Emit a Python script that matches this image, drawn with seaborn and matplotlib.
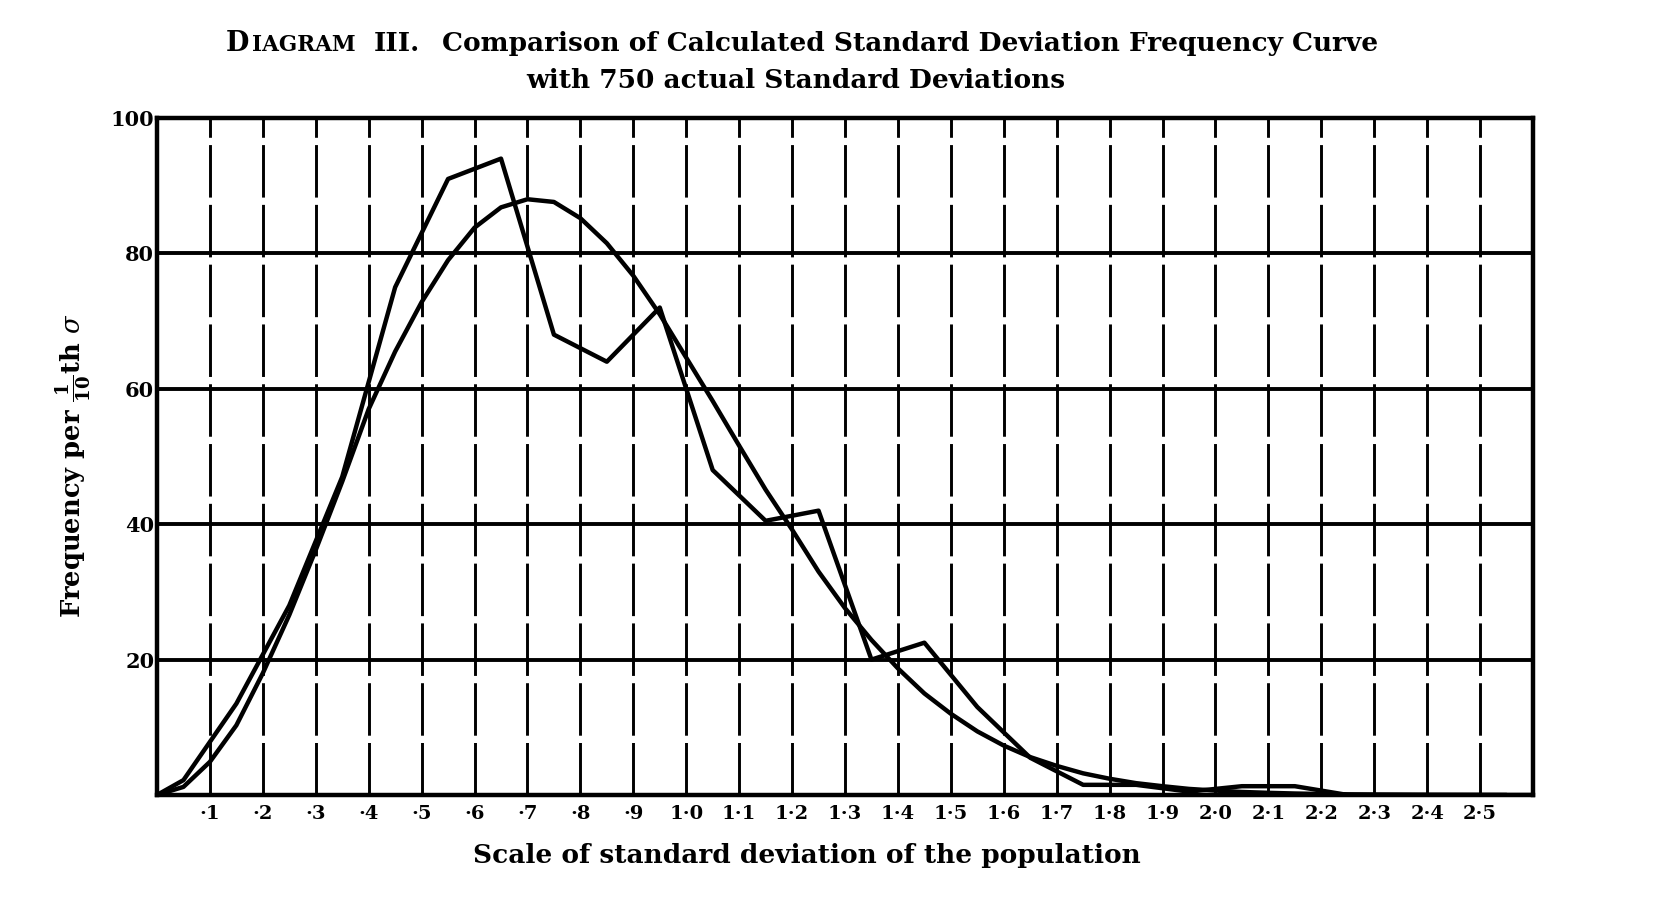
#!/usr/bin/env python
"""Diagram III: calculated standard deviation frequency curve vs 750 actual SDs."""
import matplotlib
matplotlib.use("Agg")
import numpy as np
import pandas as pd
import matplotlib.pyplot as plt
import seaborn as sns

# --- Data ---
# calculated (smooth) curve, frequency per 1/10 sigma
CALC_SCALE = [0.00, 0.05, 0.10, 0.15, 0.20, 0.25, 0.30, 0.35, 0.40, 0.45,
              0.50, 0.55, 0.60, 0.65, 0.70, 0.75, 0.80, 0.85, 0.90, 0.95,
              1.00, 1.05, 1.10, 1.15, 1.20, 1.25, 1.30, 1.35, 1.40, 1.45,
              1.50, 1.55, 1.60, 1.65, 1.70, 1.75, 1.80, 1.85, 1.90, 1.95,
              2.00, 2.05, 2.10, 2.15, 2.20, 2.25, 2.30, 2.35, 2.40, 2.45,
              2.50, 2.55, 2.60]
CALC_FREQ = [0.0, 1.2, 4.9, 10.3, 18.0, 26.6, 36.2, 46.3, 57.0, 65.5,
             72.8, 79.0, 83.8, 86.8, 88.0, 87.6, 85.2, 81.5, 76.7, 71.0,
             64.6, 58.2, 51.6, 45.1, 39.2, 33.0, 27.6, 22.9, 18.7, 15.0,
             12.0, 9.4, 7.3, 5.6, 4.3, 3.2, 2.4, 1.75, 1.3, 0.9,
             0.65, 0.45, 0.32, 0.22, 0.15, 0.1, 0.07, 0.05, 0.03, 0.02,
             0.01, 0.0, 0.0]

# actual standard deviations (frequency polygon)
ACTUAL_SCALE = [0.00, 0.05, 0.15, 0.25, 0.35, 0.45, 0.55, 0.65, 0.75, 0.85,
                0.95, 1.05, 1.15, 1.25, 1.35, 1.45, 1.55, 1.65, 1.75, 1.85,
                1.95, 2.05, 2.15, 2.25, 2.35, 2.45, 2.55]
ACTUAL_FREQ = [0.0, 2.2, 13.5, 28.0, 47.0, 75.0, 91.0, 94.0, 68.0, 64.0,
               72.0, 48.0, 40.5, 42.0, 20.0, 22.5, 13.0, 5.5, 1.5, 1.5,
               0.5, 1.3, 1.3, 0.0, 0.0, 0.0, 0.0]

X_TICKS = [0.1, 0.2, 0.3, 0.4, 0.5, 0.6, 0.7, 0.8, 0.9, 1.0, 1.1, 1.2, 1.3,
           1.4, 1.5, 1.6, 1.7, 1.8, 1.9, 2.0, 2.1, 2.2, 2.3, 2.4, 2.5]
X_LABELS = ["·1", "·2", "·3", "·4", "·5", "·6", "·7", "·8", "·9", "1·0",
            "1·1", "1·2", "1·3", "1·4", "1·5", "1·6", "1·7", "1·8", "1·9",
            "2·0", "2·1", "2·2", "2·3", "2·4", "2·5"]
Y_TICKS = [20, 40, 60, 80, 100]
Y_LABELS = ["20", "40", "60", "80", "100"]

SERIF = "DejaVu Serif"

sns.set_style("white")
plt.rcParams["font.family"] = [SERIF, "DejaVu Sans"]
plt.rcParams["mathtext.fontset"] = "dejavuserif"
plt.rcParams["text.color"] = "black"

W, H = 1660, 908
fig = plt.figure(figsize=(W / 100, H / 100), dpi=100)
ax = fig.add_axes([157 / W, 1 - 795 / H, (1533 - 157) / W, (795 - 118) / H])

calc = pd.DataFrame({"scale": CALC_SCALE, "freq": CALC_FREQ})
actual = pd.DataFrame({"scale": ACTUAL_SCALE, "freq": ACTUAL_FREQ})

sns.lineplot(data=calc, x="scale", y="freq", color="black", lw=3.2, ax=ax,
             sort=False, zorder=5)
sns.lineplot(data=actual, x="scale", y="freq", color="black", lw=3.2, ax=ax,
             sort=False, zorder=5)

ax.set_xlim(0, 2.6)
ax.set_ylim(0, 100)
ax.set_xticks(X_TICKS, X_LABELS)
ax.set_yticks(Y_TICKS, Y_LABELS)
ax.tick_params(axis="both", length=0, colors="black")
ax.tick_params(axis="x", pad=7, labelsize=14)
ax.tick_params(axis="y", pad=2, labelsize=15)
for lab in ax.get_xticklabels() + ax.get_yticklabels():
    lab.set_fontweight("bold")

ax.set_axisbelow(True)
ax.yaxis.grid(True, color="black", lw=2.8)
ax.xaxis.grid(True, color="black", lw=2.1, ls=(0, (18, 2.5)))
for side in ["left", "bottom", "right", "top"]:
    ax.spines[side].set_visible(True)
    ax.spines[side].set_color("black")
    ax.spines[side].set_linewidth(3.2)

ax.set_xlabel("")
ax.set_ylabel("")

# y label and x label
fig.text(74 / W, 1 - 466 / H, r"Frequency per $\mathbf{\frac{1}{10}}$th $\sigma$",
         rotation=90, ha="center", va="center", fontsize=18.5, fontweight="bold",
         color="black")
fig.text(807 / W, 1 - 856 / H, "Scale of standard deviation of the population",
         ha="center", va="center", fontsize=19, fontweight="bold", color="black")


def place_row(pieces, y, cx):
    """Lay out text pieces side by side (small caps style), centred on cx."""
    texts = []
    for s, size, gap in pieces:
        t = fig.text(0, y, s, fontsize=size, fontweight="bold", va="baseline",
                     ha="left", color="black")
        texts.append((t, gap))
    r = fig.canvas.get_renderer()
    widths = [t.get_window_extent(r).width + gap for t, gap in texts]
    x = cx - sum(widths) / 2
    for (t, gap), w in zip(texts, widths):
        t.set_x(x / W)
        x += w


place_row([("D", 19.5, 3), ("IAGRAM", 15.5, 18), ("III.", 19, 22),
           ("Comparison of Calculated Standard Deviation Frequency Curve", 19, 0)],
          1 - 51 / H, 802)
place_row([("with 750 actual Standard Deviations", 19, 0)], 1 - 88 / H, 796)

fig.savefig("out.png", dpi=100, facecolor="white")
